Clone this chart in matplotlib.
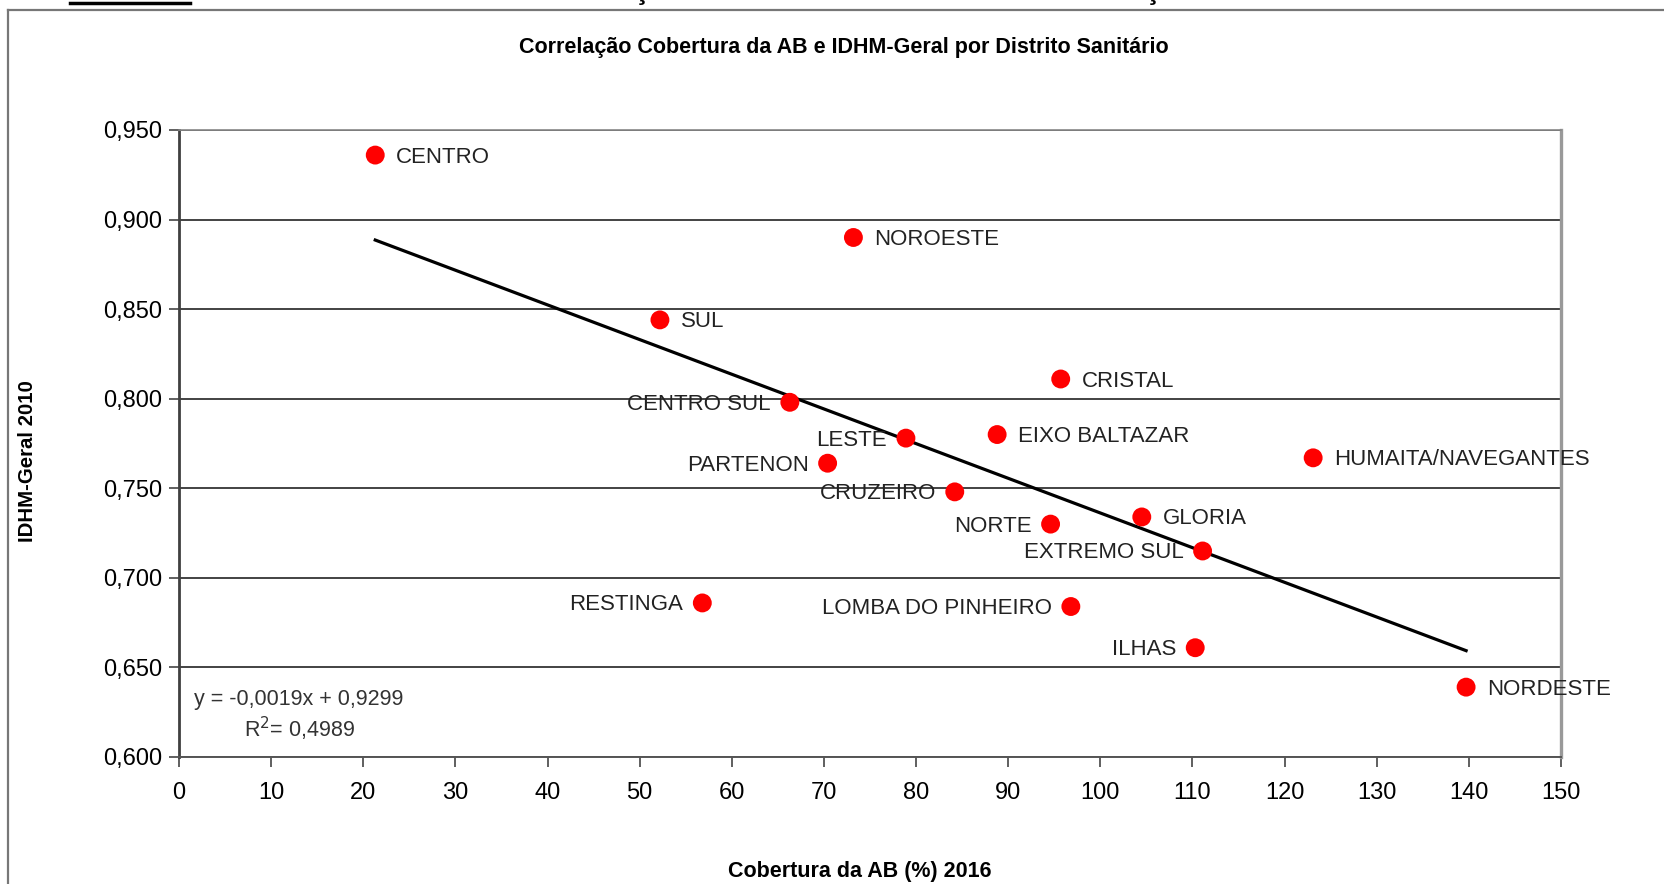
"""
correlacao cobertura da AB x IDHM-geral por distrito sanitario (scatter + linear trend).
"""
import numpy as np
import matplotlib.pyplot as plt
from matplotlib.lines import Line2D
from matplotlib.ticker import FuncFormatter

plt.rcParams['font.family'] = ['Liberation Sans', 'DejaVu Sans']

# data
distritos = ['CENTRO', 'NOROESTE', 'SUL', 'CRISTAL', 'CENTRO SUL', 'EIXO BALTAZAR',
             'LESTE', 'HUMAITA/NAVEGANTES', 'PARTENON', 'CRUZEIRO', 'GLORIA', 'NORTE',
             'EXTREMO SUL', 'RESTINGA', 'LOMBA DO PINHEIRO', 'ILHAS', 'NORDESTE']
cobertura = [21.3, 73.2, 52.2, 95.7, 66.3, 88.8, 78.9, 123.1, 70.4, 84.2, 104.5,
             94.6, 111.1, 56.8, 96.8, 110.3, 139.7]
idhm = [0.936, 0.890, 0.844, 0.811, 0.798, 0.780, 0.778, 0.767, 0.764, 0.748, 0.734,
        0.730, 0.715, 0.686, 0.684, 0.661, 0.639]
lado = ['r', 'r', 'r', 'r', 'l', 'r', 'l', 'r', 'l', 'l', 'r', 'l', 'l', 'l', 'l', 'l', 'r']

x_ticks = list(range(0, 151, 10))
y_ticks = [0.600, 0.650, 0.700, 0.750, 0.800, 0.850, 0.900, 0.950]

titulo = 'Correlação Cobertura da AB e IDHM-Geral por Distrito Sanitário'
eq_txt = 'y = -0,0019x + 0,9299'
r2_txt = 'R$^2$= 0,4989'

W, H = 1665, 884
fig = plt.figure(figsize=(W / 100, H / 100), dpi=100)
ax = fig.add_axes([179 / W, 1 - 757 / H, (1561 - 179) / W, (757 - 130) / H])

ax.set_xlim(0, 150)
ax.set_ylim(0.600, 0.950)
ax.set_xticks(x_ticks)
ax.set_yticks(y_ticks)
ax.yaxis.set_major_formatter(FuncFormatter(lambda v, p: f'{v:.3f}'.replace('.', ',')))
ax.tick_params(axis='both', direction='out', labelsize=17, color='#444444', width=1.2)
ax.tick_params(axis='y', length=7, pad=5)
ax.tick_params(axis='x', length=7, pad=11)
ax.grid(axis='y', color='#222222', lw=1.2)
ax.set_axisbelow(True)

ax.spines['left'].set_color('#404040')
ax.spines['left'].set_linewidth(2.0)
ax.spines['bottom'].set_color('#555555')
ax.spines['bottom'].set_linewidth(1.4)
ax.spines['right'].set_color('#999999')
ax.spines['right'].set_linewidth(2.4)
ax.spines['top'].set_color('#888888')
ax.spines['top'].set_linewidth(1.2)

# linear trend
coef = np.polyfit(cobertura, idhm, 1)
xs = np.array([min(cobertura), max(cobertura)])
ax.plot(xs, np.polyval(coef, xs), color='black', lw=2.3, zorder=3)

ax.scatter(cobertura, idhm, s=185, color='#ff0000', edgecolors='none', zorder=4, clip_on=False)

for nome, xv, yv, l in zip(distritos, cobertura, idhm, lado):
    if l == 'r':
        ax.annotate(nome, (xv, yv), xytext=(21, -2), textcoords='offset pixels',
                    ha='left', va='center', fontsize=16, color='#222222')
    else:
        ax.annotate(nome, (xv, yv), xytext=(-19, -2), textcoords='offset pixels',
                    ha='right', va='center', fontsize=16, color='#222222')

fig.text(194 / W, 1 - 700 / H, eq_txt, fontsize=15.5, color='#333333', ha='left', va='center')
fig.text(244 / W, 1 - 729 / H, r2_txt, fontsize=15.5, color='#333333', ha='left', va='center')

fig.text(844 / W, 1 - 47 / H, titulo, fontsize=15.5, fontweight='bold', ha='center', va='center')
fig.text(860 / W, 1 - 871 / H, 'Cobertura da AB (%) 2016', fontsize=15.5, fontweight='bold',
         ha='center', va='center')
fig.text(28 / W, 1 - 461 / H, 'IDHM-Geral 2010', fontsize=14.7, fontweight='bold',
         rotation=90, ha='center', va='center')

# outer chart frame and bits of the page around it
fig.add_artist(Line2D([8 / W, 1], [1 - 10 / H, 1 - 10 / H], color='#777777', lw=1.6))
fig.add_artist(Line2D([8 / W, 8 / W], [0, 1 - 10 / H], color='#777777', lw=1.6))
fig.add_artist(Line2D([70 / W, 190 / W], [1 - 2.5 / H, 1 - 2.5 / H], color='black', lw=2.5))
for xc in (642, 1153):
    fig.text(xc / W, 1 + 1 / H, 'ç', fontsize=20, fontweight='bold', ha='center', va='baseline')

fig.savefig('out.png', dpi=100)
